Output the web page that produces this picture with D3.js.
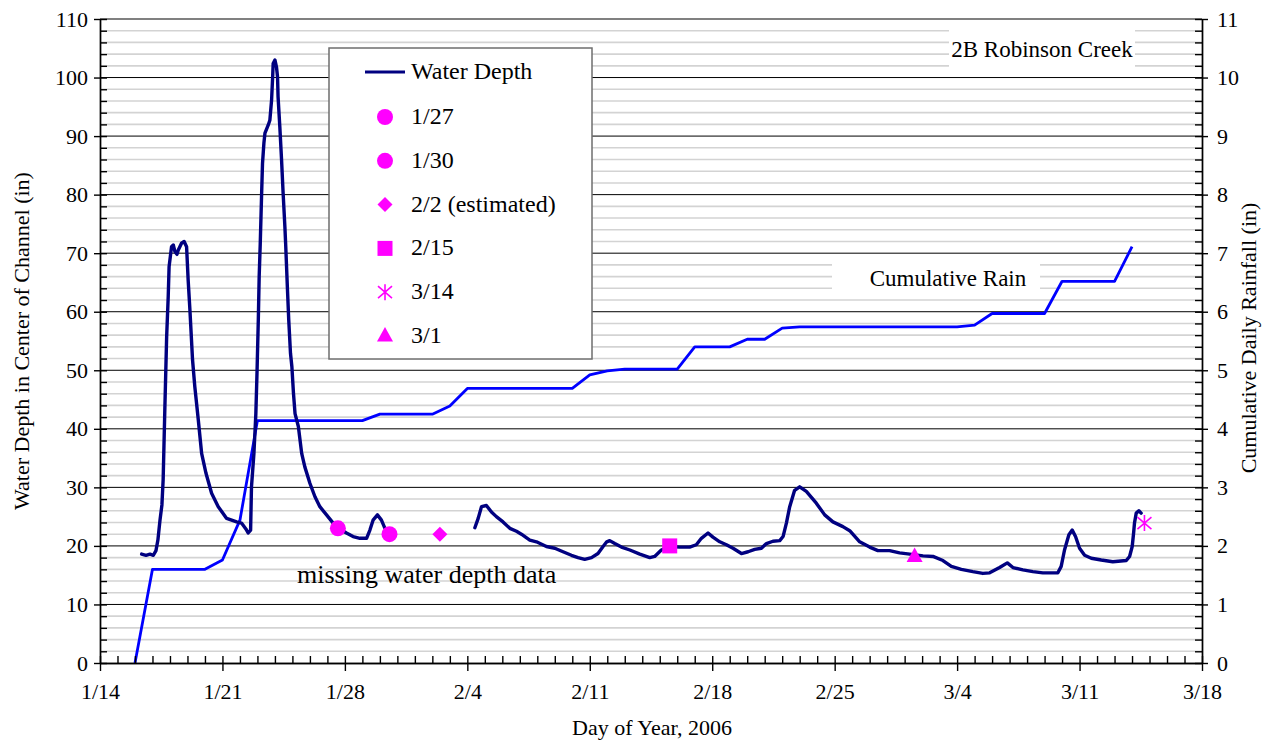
<!DOCTYPE html>
<html>
<head>
<meta charset="utf-8">
<script src="https://cdn.jsdelivr.net/npm/d3@7"></script>
<style>
  body { margin: 0; background: #fff; }
  svg text { font-family: "Liberation Serif", "Times New Roman", serif; font-size: 22px; fill: #000; }
</style>
</head>
<body>
<div class="canvas"></div>
<script>
/////////////////////////////////
//** DATA **//

// x axis: day of year (jan day number, feb 1 = 32, mar 1 = 60)
const xTickDays = [14, 21, 28, 35, 42, 49, 56, 63, 70, 77];
const xTickLabels = ['1/14', '1/21', '1/28', '2/4', '2/11', '2/18', '2/25', '3/4', '3/11', '3/18'];

// cumulative rain (right axis, in)
const rainDays = [16, 17, 18, 19, 20, 21, 22, 23, 24, 25, 26, 27, 28, 29, 30, 31, 32, 33, 34, 35,
  36, 37, 38, 39, 40, 41, 42, 43, 44, 45, 46, 47, 48, 49, 50, 51, 52, 53, 54, 55,
  56, 57, 58, 59, 60, 61, 62, 63, 64, 65, 66, 67, 68, 69, 70, 71, 72, 73];
const rainCum = [0, 1.6, 1.6, 1.6, 1.6, 1.76, 2.44, 4.14, 4.14, 4.14, 4.14, 4.14, 4.14, 4.14, 4.25, 4.25, 4.25, 4.25, 4.39, 4.69,
  4.69, 4.69, 4.69, 4.69, 4.69, 4.69, 4.92, 4.99, 5.02, 5.02, 5.02, 5.02, 5.40, 5.40, 5.40, 5.53, 5.53, 5.72, 5.74, 5.74,
  5.74, 5.74, 5.74, 5.74, 5.74, 5.74, 5.74, 5.74, 5.77, 5.97, 5.97, 5.97, 5.97, 6.52, 6.52, 6.52, 6.52, 7.11];

// water depth, first record (left axis, in)
const depthDays1 = [16.38, 16.63, 16.86, 17.05, 17.20, 17.31, 17.43, 17.54, 17.61, 17.71, 17.81, 17.90, 17.95, 18.09,
  18.19, 18.28, 18.40, 18.47, 18.66, 18.81, 18.95, 19.04, 19.14, 19.29, 19.42, 19.62, 19.81, 20.06, 20.38,
  20.76, 21.24, 21.81, 22.09, 22.34, 22.47, 22.61, 22.66, 22.80, 22.91, 22.98, 23.05, 23.10, 23.16, 23.24,
  23.29, 23.37, 23.43, 23.62, 23.71, 23.81, 23.87, 23.90, 24.00, 24.09, 24.15, 24.18, 24.28, 24.38, 24.47,
  24.57, 24.62, 24.71, 24.79, 24.89, 24.97, 25.06, 25.15, 25.34, 25.53, 25.71, 26.00, 26.29, 26.57, 26.95,
  27.33, 27.71, 28.09, 28.47, 28.86, 29.24, 29.43, 29.61, 29.86, 30.09, 30.29];
const depthVals1 = [18.6, 18.4, 18.6, 18.4, 19.2, 21.0, 24.4, 27.0, 31.3, 43.8, 55.7, 62.6, 67.7, 71.1,
  71.4, 70.3, 69.8, 70.5, 71.7, 72.0, 71.1, 65.4, 60.3, 51.8, 47.2, 41.5, 35.8, 32.4, 29.0,
  26.7, 24.7, 24.1, 23.9, 22.9, 22.2, 22.7, 30.1, 35.8, 42.6, 50.0, 58.6, 66.0, 71.5, 80.2,
  85.3, 88.8, 90.5, 91.9, 92.7, 96.2, 100.1, 102.4, 103.0, 101.8, 100.1, 96.7, 91.6, 85.9, 80.2,
  74.5, 71.1, 64.3, 58.6, 52.9, 50.6, 46.1, 42.6, 40.4, 35.8, 33.5, 30.7, 28.4, 26.7, 25.3,
  23.9, 22.9, 22.2, 21.6, 21.3, 21.3, 22.7, 24.4, 25.3, 24.4, 23.0];

// water depth, second record
const depthDays2 = [35.43, 35.62, 35.81, 36.09, 36.38, 36.66, 37.04, 37.43, 37.81, 38.09, 38.57, 38.95, 39.52,
  40.00, 40.47, 40.95, 41.33, 41.71, 42.10, 42.47, 42.76, 42.97, 43.14, 43.43, 43.81, 44.29, 44.86, 45.43,
  45.71, 46.09, 46.57, 47.14, 47.71, 48.09, 48.38, 48.76, 49.04, 49.43, 49.81, 50.19, 50.67, 51.05, 51.43,
  51.81, 52.10, 52.47, 52.86, 53.05, 53.24, 53.43, 53.71, 54.00, 54.38, 54.95, 55.43, 55.90, 56.47, 56.86,
  57.43, 58.00, 58.47, 59.14, 59.71, 60.29, 61.05, 61.62, 62.19, 62.67, 63.24, 63.90, 64.47, 64.86, 65.43,
  65.87, 66.19, 66.76, 67.33, 67.90, 68.76, 68.95, 69.14, 69.39, 69.58, 69.77, 70.00, 70.29, 70.67, 71.24,
  71.90, 72.67, 72.86, 73.01, 73.09, 73.14, 73.24, 73.39, 73.52];
const depthVals2 = [23.1, 24.7, 26.7, 26.9, 25.8, 25.0, 24.1, 23.0, 22.5, 22.0, 21.0, 20.7, 19.9,
  19.6, 19.0, 18.4, 18.0, 17.7, 18.0, 18.7, 19.9, 20.7, 20.9, 20.4, 19.8, 19.3, 18.6, 18.0,
  18.2, 19.3, 19.9, 19.8, 19.8, 20.2, 21.3, 22.2, 21.5, 20.7, 20.2, 19.6, 18.7, 19.0, 19.4,
  19.6, 20.4, 20.8, 20.9, 21.6, 23.9, 26.7, 29.5, 30.1, 29.3, 27.3, 25.3, 24.1, 23.3, 22.6,
  20.7, 19.8, 19.2, 19.2, 18.8, 18.6, 18.3, 18.2, 17.5, 16.5, 16.0, 15.6, 15.3, 15.4, 16.3,
  17.1, 16.3, 15.9, 15.6, 15.4, 15.4, 16.5, 19.3, 21.9, 22.7, 21.6, 19.6, 18.4, 17.9, 17.6,
  17.3, 17.5, 18.2, 19.9, 22.2, 23.9, 25.6, 26.0, 25.6];

// measured depths (markers)
const sampleLabels = ['1/27', '1/30', '2/2 (estimated)', '2/15', '3/14', '3/1'];
const sampleShapes = ['circle', 'circle', 'diamond', 'square', 'star', 'triangle'];
const sampleDays = [27.6, 30.55, 33.43, 46.57, 73.71, 60.57];
const sampleDepths = [23.0, 22.0, 22.0, 20.0, 23.9, 18.2];

/////////////////////////////////
//** DIMENSIONS **//

const dims = { width: 1276, height: 744 };
const plot = { left: 100, right: 1202, top: 19, bottom: 663 };

const svg = d3.select('.canvas')
  .append('svg')
  .attr('width', dims.width)
  .attr('height', dims.height);

// scales
const x = d3.scaleLinear().domain([14, 77]).range([plot.left, plot.right]);
const yL = d3.scaleLinear().domain([0, 110]).range([plot.bottom, plot.top]);
const yR = d3.scaleLinear().domain([0, 11]).range([plot.bottom, plot.top]);

/////////////////////////////////
//** GRID **//

const grid = svg.append('g');
grid.selectAll('line')
  .data(d3.range(2, 110, 2))
  .enter().append('line')
  .attr('x1', plot.left).attr('x2', plot.right)
  .attr('y1', d => yL(d)).attr('y2', d => yL(d))
  .attr('stroke', d => d % 10 === 0 ? '#000' : '#d3d3d3')
  .attr('stroke-width', d => d % 10 === 0 ? 1 : 1.6);

// top border of plot area
svg.append('line')
  .attr('x1', plot.left).attr('x2', plot.right)
  .attr('y1', yL(110)).attr('y2', yL(110))
  .attr('stroke', '#808080').attr('stroke-width', 2);

// white boxes behind text labels
const labelBox = (x0, y0, w, h) => svg.append('rect')
  .attr('x', x0).attr('y', y0).attr('width', w).attr('height', h).attr('fill', '#fff');

labelBox(949, 29, 186, 38);
labelBox(832, 263, 208, 30);

svg.append('text')
  .attr('x', 1042).attr('y', 57)
  .attr('text-anchor', 'middle')
  .style('font-size', '23px')
  .text('2B Robinson Creek');

svg.append('text')
  .attr('x', 948).attr('y', 286)
  .attr('text-anchor', 'middle')
  .style('font-size', '23px')
  .text('Cumulative Rain');

svg.append('text')
  .attr('x', 297).attr('y', 583)
  .style('font-size', '26px')
  .text('missing water depth data');

/////////////////////////////////
//** LINES **//

const rainLine = d3.line()
  .x(d => x(d[0]))
  .y(d => yR(d[1]));

svg.append('path')
  .datum(d3.zip(rainDays, rainCum))
  .attr('d', rainLine)
  .attr('fill', 'none')
  .attr('stroke', '#0000ff')
  .attr('stroke-width', 2.8)
  .attr('stroke-linejoin', 'round');

const depthLine = d3.line()
  .x(d => x(d[0]))
  .y(d => yL(d[1]));

[d3.zip(depthDays1, depthVals1), d3.zip(depthDays2, depthVals2)].forEach(seg => {
  svg.append('path')
    .datum(seg)
    .attr('d', depthLine)
    .attr('fill', 'none')
    .attr('stroke', '#000080')
    .attr('stroke-width', 3.4)
    .attr('stroke-linejoin', 'round')
    .attr('stroke-linecap', 'round');
});

/////////////////////////////////
//** MARKERS **//

const magenta = '#ff00ff';

// draws a marker shape centred on 0,0
const drawMarker = (g, shape) => {
  if (shape === 'circle') {
    g.append('circle').attr('r', 8).attr('fill', magenta);
  } else if (shape === 'diamond') {
    g.append('path').attr('d', 'M0,-7.5L7.5,0L0,7.5L-7.5,0Z').attr('fill', magenta);
  } else if (shape === 'square') {
    g.append('rect').attr('x', -7.5).attr('y', -7.5).attr('width', 15).attr('height', 15).attr('fill', magenta);
  } else if (shape === 'triangle') {
    g.append('path').attr('d', 'M0,-9L8,5.5L-8,5.5Z').attr('fill', magenta);
  } else if (shape === 'star') {
    g.append('path')
      .attr('d', 'M0,-8L0,8M-7,-6L7,6M-7,6L7,-6')
      .attr('stroke', magenta).attr('stroke-width', 1.6).attr('fill', 'none');
  }
};

sampleDays.forEach((d, i) => {
  const g = svg.append('g')
    .attr('transform', `translate(${x(d)}, ${yL(sampleDepths[i])})`);
  drawMarker(g, sampleShapes[i]);
});

/////////////////////////////////
//** LEGEND **//

const legend = svg.append('g');
legend.append('rect')
  .attr('x', 329).attr('y', 48).attr('width', 263).attr('height', 311)
  .attr('fill', '#fff').attr('stroke', '#6e6e6e').attr('stroke-width', 1.5);

legend.append('line')
  .attr('x1', 365).attr('x2', 405).attr('y1', 72).attr('y2', 72)
  .attr('stroke', '#000080').attr('stroke-width', 3);
legend.append('text')
  .attr('x', 411).attr('y', 79)
  .style('font-size', '24px')
  .text('Water Depth');

sampleLabels.forEach((lab, i) => {
  const cy = 117 + i * 43.8;
  const g = legend.append('g').attr('transform', `translate(385, ${cy})`);
  drawMarker(g, sampleShapes[i]);
  legend.append('text')
    .attr('x', 411).attr('y', cy + 7)
    .style('font-size', '24px')
    .text(lab);
});

/////////////////////////////////
//** AXES **//

const styleAxis = g => {
  g.selectAll('path, line').attr('stroke', '#000').attr('stroke-width', 1.4);
  g.selectAll('text').style('font-family', '"Liberation Serif", serif').style('font-size', '22px').attr('fill', '#000');
};

// bottom axis: daily minor ticks inside, weekly major ticks outside
svg.append('g')
  .attr('transform', `translate(0, ${plot.bottom})`)
  .call(d3.axisBottom(x).tickValues(d3.range(14, 78)).tickSize(-7).tickSizeOuter(0).tickFormat(''))
  .call(styleAxis);
svg.append('g')
  .attr('transform', `translate(0, ${plot.bottom})`)
  .call(d3.axisBottom(x).tickValues(xTickDays).tickSize(8).tickSizeOuter(0).tickPadding(12)
    .tickFormat((d, i) => xTickLabels[i]))
  .call(styleAxis);

// left axis
svg.append('g')
  .attr('transform', `translate(${plot.left}, 0)`)
  .call(d3.axisLeft(yL).tickValues(d3.range(0, 111, 2)).tickSize(-7).tickSizeOuter(0).tickFormat(''))
  .call(styleAxis);
svg.append('g')
  .attr('transform', `translate(${plot.left}, 0)`)
  .call(d3.axisLeft(yL).tickValues(d3.range(0, 111, 10)).tickSize(6).tickSizeOuter(0).tickPadding(6))
  .call(styleAxis);

// right axis
svg.append('g')
  .attr('transform', `translate(${plot.right}, 0)`)
  .call(d3.axisRight(yR).tickValues(d3.range(0, 56).map(d => d / 5)).tickSize(-7).tickSizeOuter(0).tickFormat(''))
  .call(styleAxis);
svg.append('g')
  .attr('transform', `translate(${plot.right}, 0)`)
  .call(d3.axisRight(yR).tickValues(d3.range(0, 12)).tickSize(6).tickSizeOuter(0).tickPadding(9))
  .call(styleAxis);

// axis titles
svg.append('text')
  .attr('x', 652).attr('y', 735)
  .attr('text-anchor', 'middle')
  .text('Day of Year, 2006');

svg.append('text')
  .attr('transform', 'translate(29, 341) rotate(-90)')
  .attr('text-anchor', 'middle')
  .text('Water Depth in Center of Channel (in)');

svg.append('text')
  .attr('transform', 'translate(1256, 338) rotate(-90)')
  .attr('text-anchor', 'middle')
  .text('Cumulative Daily Rainfall (in)');
</script>
</body>
</html>
